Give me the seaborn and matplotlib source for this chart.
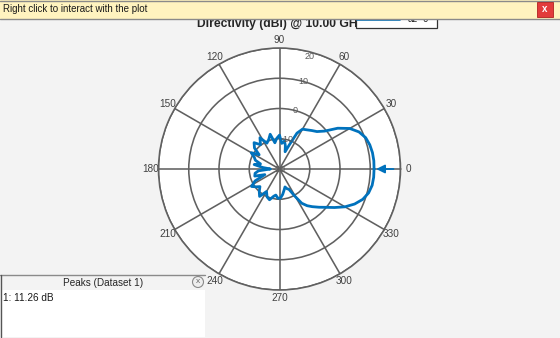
import numpy as np
import pandas as pd
import matplotlib
matplotlib.use("Agg")
import matplotlib.pyplot as plt
import seaborn as sns
from matplotlib.patches import Rectangle, Circle

# ---------------- data ----------------
angles_deg = [0, 5, 10, 15, 20, 25, 30, 35, 40, 45, 50, 55, 60, 64, 68, 72, 76, 80, 85,
              90, 95, 100, 105, 110, 116, 122, 128, 134, 140, 145, 150, 155, 160, 165,
              170, 175, 180, 185, 190, 196, 201, 206, 212, 217, 222, 228, 234, 240, 246,
              252, 258, 262, 267, 272, 277, 282, 287, 291, 295, 299, 303, 307, 311, 316,
              320, 325, 330, 335, 340, 345, 350, 355, 360]
directivity_db = [11.26, 11.3, 11.2, 10.9, 10.3, 9.0, 6.8, 3.5, -0.5, -2.5, -3.4, -4.2,
                  -4.8, -6.8, -11.5, -14.0, -12.0, -10.6, -11.5,
                  -8.8, -9.8, -11.2, -8.1, -9.6, -10.5, -7.8, -9.8, -7.9, -9.2, -11.8,
                  -9.2, -10.8, -11.5, -13.5,
                  -11.5, -14.5, -17.0, -13.0, -11.8, -11.5, -14.8, -11.0, -9.1, -10.2,
                  -11.3, -10.0, -8.8, -11.4, -9.9,
                  -9.3, -10.8, -11.3, -10.3, -10.4, -11.5, -12.8, -13.8, -13.0, -12.6,
                  -10.0, -6.5, -4.8, -3.5, -1.8,
                  -0.3, 2.2, 5.0, 7.4, 9.3, 10.5, 11.1, 11.25, 11.26]
theta_ticks = list(range(0, 360, 30))
r_ticks = [-20, -10, 0, 10, 20]
r_tick_labels = ["-20", "-10", "0", "10", "20"]
peak_angle_deg = 0
peak_db = 11.26
title_text = "Directivity (dBi) @ 10.00 GHz"
legend_label = "az=0"
banner_text = "Right click to interact with the plot"
peaks_header = "Peaks (Dataset 1)"
peaks_rows = ["1: 11.26 dB"]

# ---------------- style ----------------
sns.set_style("white")
plt.rcParams["font.family"] = ["Liberation Sans", "DejaVu Sans"]

W, H = 560, 338
BG = "#f3f3f3"
GRID = "#606060"
BLUE = "#0072BD"

fig = plt.figure(figsize=(W / 100, H / 100), dpi=100, facecolor=BG)

cx, cy, R = 279.5, 169.0, 121.0
ax = fig.add_axes([(cx - R) / W, (H - cy - R) / H, 2 * R / W, 2 * R / H], projection="polar")
ax.set_facecolor("white")

df = pd.DataFrame({"theta": np.deg2rad(angles_deg), "db": directivity_db})
sns.lineplot(data=df, x="theta", y="db", ax=ax, sort=False, color=BLUE, linewidth=2.0,
             zorder=5)
ax.set_xlabel("")
ax.set_ylabel("")

ax.set_rlim(-20, 20)
ax.set_rticks(r_ticks)
ax.set_yticklabels([])
ax.set_thetagrids(theta_ticks, [str(t) for t in theta_ticks])
ax.tick_params(axis="x", labelsize=7.2, labelcolor="#404040", pad=-4.5)
ax.grid(True, color=GRID, linewidth=1.15)
ax.spines["polar"].set_color(GRID)
ax.spines["polar"].set_linewidth(1.15)

# radial labels along 75 degrees
rlabel_theta = np.deg2rad(75)
for v, lab in zip(r_ticks, r_tick_labels):
    rr = min(v, 18.5)
    ax.text(rlabel_theta, rr, lab, ha="center", va="center", fontsize=6.5,
            color="#5a5a5a", zorder=6)

# peak marker
ax.annotate("", xy=(np.deg2rad(peak_angle_deg), peak_db), xytext=(14, 0),
            textcoords="offset points",
            arrowprops=dict(arrowstyle="-|>,head_length=0.5,head_width=0.25",
                            color=BLUE, lw=1.3, shrinkA=0, shrinkB=1.5),
            zorder=7)

# ---------------- overlay (pixel coordinates) ----------------
ov = fig.add_axes([0, 0, 1, 1])
ov.set_xlim(0, W)
ov.set_ylim(H, 0)
ov.axis("off")

# title
ov.text(280, 24.0, title_text, ha="center", va="center", fontsize=8.7,
        fontweight="bold", color="#262626", zorder=2)

# legend box partially under banner
ov.add_patch(Rectangle((356, 8), 81, 20, facecolor="white", edgecolor="#333333",
                       lw=0.9, zorder=3))
ov.plot([357, 400], [19.5, 19.5], color=BLUE, lw=1.2, zorder=4)
ov.text(418, 18.5, legend_label, ha="center", va="center", fontsize=7,
        color="#262626", zorder=4)

# banner
ov.add_patch(Rectangle((0, 0), W, 19, facecolor="#fff3bf", edgecolor="none", zorder=5))
ov.plot([0, W], [19, 19], color="#8a8a8a", lw=1.0, zorder=6)
ov.plot([0, W], [0.5, 0.5], color="#8a8a8a", lw=1.0, zorder=6)
ov.text(3, 9.5, banner_text, ha="left", va="center", fontsize=7.0, color="#1a1a1a",
        zorder=6)
ov.add_patch(Rectangle((537, 2), 16, 15, facecolor="#e23b3b", edgecolor="#b02020",
                       lw=0.6, zorder=6))
ov.text(545, 9.5, "x", ha="center", va="center", fontsize=7, fontweight="bold",
        color="white", zorder=7)

# peaks table
ov.add_patch(Rectangle((1, 290), 204, 47, facecolor="white", edgecolor="none", zorder=2))
ov.plot([0, 205], [275, 275], color="#8a8a8a", lw=1.0, zorder=3)
ov.plot([1, 1], [275, 337], color="#555555", lw=1.0, zorder=3)
ov.text(103, 283, peaks_header, ha="center", va="center", fontsize=7.2, color="#262626",
        zorder=3)
for i, row in enumerate(peaks_rows):
    ov.text(3, 298 + 12 * i, row, ha="left", va="center", fontsize=7.2, color="#1a1a1a",
            zorder=3)
ov.add_patch(Circle((198, 282), 5.5, facecolor="#eeeeee", edgecolor="#8a8a8a", lw=0.8,
                    zorder=3))
ov.text(198, 281.8, "x", ha="center", va="center", fontsize=6, color="#666666", zorder=4)

fig.savefig("out.png", dpi=100, facecolor=BG)
